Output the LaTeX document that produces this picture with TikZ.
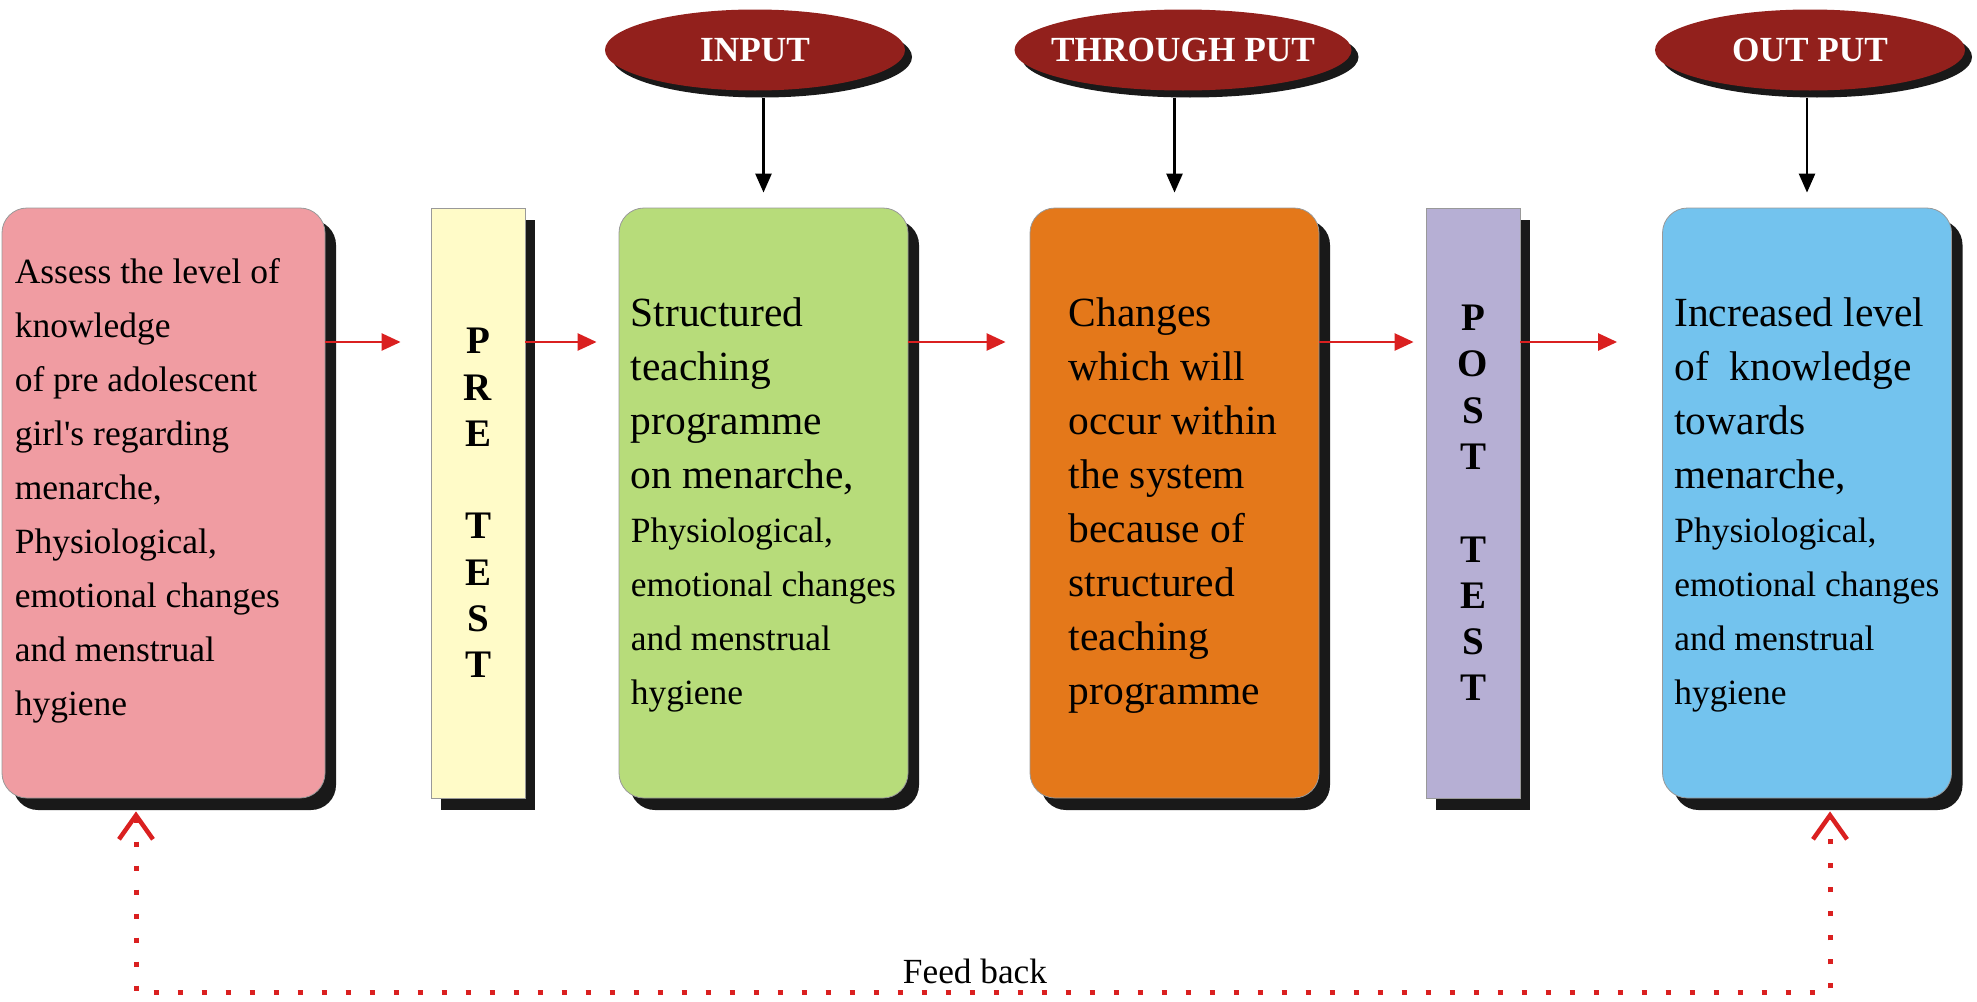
\documentclass[tikz,border=0pt]{standalone}
\usepackage{fontspec}
\setmainfont{Liberation Serif}
\usetikzlibrary{shapes.geometric,shadows,arrows.meta,calc}

\definecolor{headred}{RGB}{146,32,28}
\definecolor{pinkbox}{RGB}{240,156,162}
\definecolor{yellowbar}{RGB}{255,251,200}
\definecolor{greenbox}{RGB}{183,220,122}
\definecolor{orangebox}{RGB}{228,120,26}
\definecolor{purplebar}{RGB}{182,175,212}
\definecolor{bluebox}{RGB}{115,195,238}
\definecolor{arrred}{RGB}{218,32,32}

\newcommand\txtbig{\fontsize{41.5}{54}\selectfont}
\newcommand\txtsmall{\fontsize{35.5}{54}\selectfont}

\tikzset{
  box/.style={draw=gray!80, line width=0.8pt, rounded corners=25pt, minimum width=289pt,
    minimum height=590pt, inner sep=0pt,
    general shadow={fill=black!90, shadow xshift=11pt, shadow yshift=-12pt}},
  bar/.style={draw=gray!80, line width=0.8pt, minimum width=94pt, minimum height=590pt,
    inner sep=0pt, align=center, font=\fontsize{39}{46.3}\selectfont\bfseries,
    general shadow={fill=black!90, shadow xshift=10pt, shadow yshift=-12pt}},
  head/.style={ellipse, fill=headred, minimum height=81pt, inner sep=0pt, text=white,
    font=\fontsize{35.3}{40}\selectfont\bfseries,
    general shadow={fill=black!90, shadow xshift=7pt, shadow yshift=-7pt}},
  body/.style={anchor=north west, align=left, inner sep=0pt},
  redarrow/.style={draw=arrred, line width=2.5pt, -{Triangle[length=19pt,width=17pt]}},
  blackarrow/.style={draw=black, line width=2.5pt, shorten <=7pt, shorten >=15pt,
    -{Triangle[length=19pt,width=16pt]}},
  feedback/.style={draw=arrred, line width=5pt, dash pattern=on 5pt off 19pt,
    {Straight Barb[length=24pt,width=34pt,line width=4.5pt]}-{Straight Barb[length=24pt,width=34pt,line width=4.5pt]}}
}

\begin{document}
\begin{tikzpicture}[x=1pt,y=-1pt]
\useasboundingbox (0,0) rectangle (1977,1001);

% heads
\node[head, minimum width=300pt] (inp) at (755,50) {INPUT};
\node[head, minimum width=337pt, inner xsep=-15pt] (thru) at (1183,50) {THROUGH PUT};
\node[head, minimum width=310pt] (outp) at (1810,50) {OUT PUT};

% boxes
\node[box, fill=pinkbox, minimum width=323pt] (pink) at (163.5,503) {};
\node[bar, fill=yellowbar] (pre) at (478,503) {P\\R\\E\\ \\T\\E\\S\\T};
\node[box, fill=greenbox] (green) at (763.5,503) {};
\node[box, fill=orangebox] (orange) at (1174.5,503) {};
\node[bar, fill=purplebar] (post) at (1473,503) {P\\O\\S\\T\\ \\T\\E\\S\\T};
\node[box, fill=bluebox] (blue) at (1807,503) {};

% texts
\node[body, font=\txtsmall] (pinktxt) at ([shift={(13,51)}]pink.north west)
  {Assess the level of\\knowledge\\of pre adolescent\\girl\textquotesingle s regarding\\menarche,\\Physiological,\\emotional changes\\and menstrual\\hygiene};
\node[body, font=\txtbig] (greentxt) at ([shift={(12,90)}]green.north west)
  {Structured\\teaching\\programme\\on menarche,\\\txtsmall Physiological,\\\txtsmall emotional changes\\\txtsmall and menstrual\\\txtsmall hygiene};
\node[body, font=\txtbig] (orangetxt) at ([shift={(39,90)}]orange.north west)
  {Changes\\which will\\occur within\\the system\\because of\\structured\\teaching\\programme};
\node[body, font=\txtbig] (bluetxt) at ([shift={(12,90)}]blue.north west)
  {Increased level\\of\ \ knowledge\\towards\\menarche,\\\txtsmall Physiological,\\\txtsmall emotional changes\\\txtsmall and menstrual\\\txtsmall hygiene};

% arrows
\coordinate (lvl) at (0,342);
\draw[redarrow, shorten >=30pt] (pink.east |- lvl) -- (pre.west |- lvl);
\draw[redarrow, shorten >=22pt] (pre.east |- lvl) -- (green.west |- lvl);
\draw[redarrow, shorten >=24pt] (green.east |- lvl) -- (orange.west |- lvl);
\draw[redarrow, shorten >=12pt] (orange.east |- lvl) -- (post.west |- lvl);
\draw[redarrow, shorten >=45pt] (post.east |- lvl) -- (blue.west |- lvl);

\draw[blackarrow] (inp.south -| green.north) -- (green.north);
\draw[blackarrow] (thru.south -| orange.north) -- (orange.north);
\draw[blackarrow] (outp.south -| blue.north) -- (blue.north);

% feed back loop
\coordinate (fbl) at (136,992);
\coordinate (fbr) at (1830,992);
\draw[feedback] ($(pink.south -| fbl)+(0,13)$) -- (fbl) -- (fbr) -- ($(blue.south -| fbr)+(0,13)$);
\node[font=\fontsize{35.3}{40}\selectfont, anchor=base, inner sep=0pt] (fbtxt) at (975,983) {Feed back};

\end{tikzpicture}
\end{document}
